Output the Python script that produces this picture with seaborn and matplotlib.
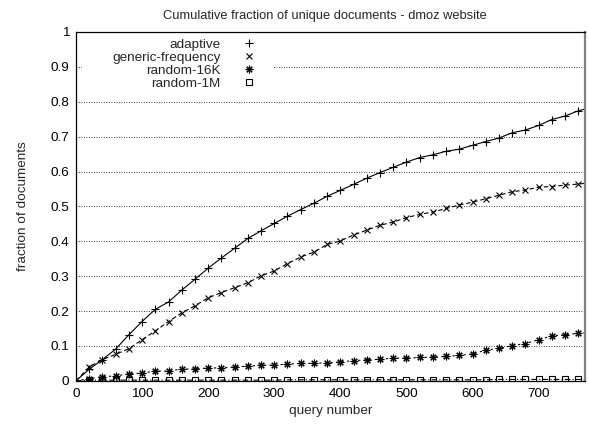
import matplotlib
matplotlib.use("Agg")
import matplotlib.pyplot as plt
from matplotlib.lines import Line2D
from matplotlib.path import Path
from matplotlib.ticker import FormatStrFormatter, MultipleLocator
import seaborn as sns

# query numbers (markers every 20 queries, line runs to the right border)
queries = [0, 20, 40, 60, 80, 100, 120, 140, 160, 180, 200, 220, 240, 260, 280,
           300, 320, 340, 360, 380, 400, 420, 440, 460, 480, 500, 520, 540, 560,
           580, 600, 620, 640, 660, 680, 700, 720, 740, 760, 770]

adaptive = [0, 0.033, 0.061, 0.091, 0.132, 0.170, 0.205, 0.226, 0.260, 0.291,
            0.323, 0.352, 0.380, 0.408, 0.430, 0.451, 0.472, 0.491, 0.509, 0.529,
            0.546, 0.563, 0.581, 0.597, 0.612, 0.627, 0.640, 0.648, 0.658, 0.664,
            0.675, 0.686, 0.696, 0.711, 0.719, 0.732, 0.749, 0.759, 0.774, 0.779]

generic_frequency = [0, 0.040, 0.061, 0.076, 0.092, 0.118, 0.143, 0.170, 0.195, 0.215,
                     0.238, 0.253, 0.267, 0.281, 0.301, 0.315, 0.336, 0.355, 0.369, 0.391,
                     0.401, 0.418, 0.432, 0.446, 0.455, 0.468, 0.477, 0.484, 0.494, 0.504,
                     0.512, 0.522, 0.532, 0.542, 0.547, 0.555, 0.557, 0.561, 0.564, 0.566]

random_16k = [0, 0.006, 0.012, 0.014, 0.020, 0.022, 0.028, 0.028, 0.034, 0.034,
              0.037, 0.037, 0.040, 0.042, 0.045, 0.045, 0.048, 0.050, 0.050, 0.052,
              0.054, 0.058, 0.060, 0.062, 0.065, 0.065, 0.067, 0.068, 0.070, 0.073,
              0.077, 0.088, 0.093, 0.101, 0.107, 0.118, 0.129, 0.132, 0.136, 0.138]

random_1m = [0, 0.002, 0.002, 0.002, 0.002, 0.002, 0.002, 0.002, 0.002, 0.002,
             0.002, 0.002, 0.002, 0.002, 0.002, 0.002, 0.003, 0.003, 0.003, 0.003,
             0.003, 0.003, 0.003, 0.003, 0.003, 0.003, 0.003, 0.003, 0.003, 0.003,
             0.003, 0.003, 0.004, 0.004, 0.004, 0.004, 0.004, 0.004, 0.004, 0.004]

series_names = ["adaptive", "generic-frequency", "random-16K", "random-1M"]
series_values = [adaptive, generic_frequency, random_16k, random_1m]

markers = ["+", "x", (8, 2, 0), "s"]
marker_sizes = [6, 5, 5.5, 4]
linestyles = ["-", (0, (4, 2.5)), (0, (2, 3)), (0, (5, 2, 1, 2))]

FS = 9.7

sns.set_style("white")
plt.rcParams["font.family"] = ["Liberation Sans", "DejaVu Sans"]

fig = plt.figure(figsize=(5.89, 4.26), dpi=100)
ax = fig.add_axes([0.129, 0.106, 0.864, 0.819])

for name, vals, mk, ms, ls in zip(series_names, series_values, markers,
                                  marker_sizes, linestyles):
    sns.lineplot(x=queries, y=vals, color="black", linewidth=0.8,
                 linestyle=ls, marker=mk, markersize=ms,
                 markeredgecolor="black", markeredgewidth=0.8,
                 markerfacecolor="none", markevery=slice(1, 39),
                 sort=False, ax=ax)

ax.set_xlim(0, 770)
ax.set_ylim(0, 1)
ax.xaxis.set_major_locator(MultipleLocator(100))
ax.yaxis.set_major_locator(MultipleLocator(0.1))
ax.yaxis.set_major_formatter(FormatStrFormatter("%g"))
ax.tick_params(axis="both", direction="in", length=4, width=0.8,
               labelsize=FS, colors="black", pad=5)
ax.tick_params(axis="y", length=0)
ax.grid(axis="y", linestyle=(0, (1, 2)), color="black", linewidth=0.6)
ax.grid(axis="x", visible=False)

for side in ["left", "bottom", "top"]:
    ax.spines[side].set_color("black")
    ax.spines[side].set_linewidth(0.9)
ax.spines["right"].set_color("#808080")
ax.spines["right"].set_linewidth(1.6)

ax.set_title("Cumulative fraction of unique documents - dmoz website",
             fontsize=9.3, pad=9, x=0.489)
ax.set_xlabel("query number", fontsize=FS)
ax.set_ylabel("fraction of documents", fontsize=FS, labelpad=15)


# white key box, wider to the sides than the entries (hides the grid behind it)
def wide_box(x0, y0, width, height, mutation_size):
    left = x0 - 1.9 * mutation_size
    right = x0 + width + 1.0 * mutation_size
    return Path([(left, y0), (right, y0), (right, y0 + height),
                 (left, y0 + height), (left, y0)], closed=True)


# legend with markers only, text right aligned, marker after text
handles = [Line2D([], [], linestyle="none", marker=mk, markersize=ms,
                  markeredgecolor="black", markerfacecolor="none",
                  markeredgewidth=0.8)
           for mk, ms in zip(markers, marker_sizes)]
leg = ax.legend(handles, series_names, loc="upper left", bbox_to_anchor=(0.063, 0.993),
                markerfirst=False, frameon=True, framealpha=1, edgecolor="white",
                fontsize=FS, labelspacing=0.04, handlelength=1.0,
                handletextpad=1.65, borderpad=0.3, borderaxespad=0)
leg.get_frame().set_linewidth(0)
leg.get_frame().set_boxstyle(wide_box)

fig.savefig("out.png", dpi=100)
